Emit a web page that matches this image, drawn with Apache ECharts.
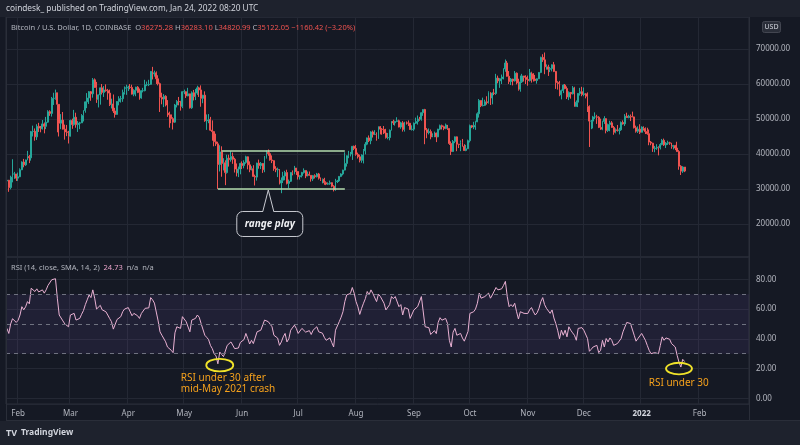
<!DOCTYPE html>
<html>
<head>
<meta charset="utf-8">
<script src="https://cdn.jsdelivr.net/npm/echarts@6/dist/echarts.min.js"></script>
<style>
html,body{margin:0;padding:0;background:#151924;}
#c{width:800px;height:445px;}
</style>
</head>
<body>
<div id="c"></div>
<script>
// ---------------- DATA (BTC/USD daily, Coinbase, 2021-01-26 .. 2022-01-24) ----------------
const startDate = [2021, 0, 26];           // first category (UTC)
const totalDays = 398;                     // axis runs on to late Feb 2022 (empty space on right)
const firstOpenK = 32.3;                   // open of the first candle (thousands USD)

// daily closes, thousands USD (one row per month)
const closeK = [
  32.5,30.4,33.4,34.3,34.3,33.1,
  33.5,35.5,37.7,36.9,38.3,39.3,38.9,46.4,46.5,44.9,47.9,47.4,47.2,48.6,47.9,49.1,52.1,51.6,55.9,55.9,57.5,54.2,48.8,49.7,47.1,46.3,46.2,45.1,
  49.6,48.4,50.5,48.4,48.8,48.9,51.0,52.4,54.9,56.0,57.8,57.2,61.2,59.0,55.6,56.9,58.9,57.6,58.3,58.1,57.4,54.1,54.3,52.3,51.3,55.0,55.8,55.8,57.6,58.8,58.9,
  59.1,59.0,57.1,58.2,59.1,57.6,56.0,58.1,58.1,59.8,59.8,59.9,63.6,62.9,63.2,61.5,60.1,56.2,55.7,56.5,54.0,51.7,51.2,50.1,49.1,54.0,55.0,54.9,53.6,57.8,
  57.8,56.6,57.2,53.2,57.5,56.4,57.4,58.9,58.3,55.9,56.8,49.5,49.7,49.9,46.8,46.4,43.5,42.9,37.0,40.6,37.3,37.5,34.7,38.8,38.4,39.3,38.5,35.7,34.6,35.7,37.3,
  36.7,37.6,39.2,36.9,35.5,35.8,33.6,33.4,37.4,36.7,37.3,35.5,39.1,40.5,40.1,38.3,38.1,35.8,35.5,35.6,31.7,32.5,33.7,34.7,31.6,32.2,34.7,34.5,36.0,35.0,
  33.5,33.8,34.7,35.3,33.7,34.2,33.9,32.9,33.8,33.5,34.3,33.1,32.7,32.8,31.8,31.4,31.5,31.8,30.8,29.8,32.1,32.3,33.6,34.3,35.4,37.3,39.5,40.0,40.0,42.2,41.6,
  39.9,39.2,38.2,39.7,40.9,42.8,44.6,43.8,46.3,45.6,45.6,44.4,47.8,47.1,47.0,46.0,44.7,44.7,46.8,49.3,48.9,49.3,49.5,47.7,48.9,47.0,49.1,48.9,48.8,47.0,47.1,
  48.8,49.3,50.0,49.9,51.8,52.7,46.9,46.1,46.4,44.9,45.2,46.0,44.9,47.1,48.1,47.8,47.3,48.3,47.3,43.0,40.7,43.6,44.9,42.8,42.7,43.2,42.2,41.0,41.5,43.8,
  48.1,47.7,48.2,49.2,51.5,55.3,53.8,53.9,54.9,54.7,57.5,56.0,57.4,57.3,61.7,60.9,61.5,62.0,64.3,66.0,62.2,60.7,61.4,60.9,63.1,60.3,58.5,60.6,62.3,61.9,61.3,
  61.0,63.2,62.9,61.4,61.0,61.5,63.3,67.6,66.9,64.9,64.9,64.2,64.4,65.5,63.6,60.4,60.1,56.9,58.1,59.7,58.7,56.3,57.6,57.2,58.9,53.6,54.8,57.3,57.8,57.0,
  57.2,56.5,53.6,49.4,49.4,50.6,50.6,50.5,47.6,47.1,49.3,50.1,46.7,48.4,48.9,47.6,46.2,46.9,46.7,46.9,49.0,48.6,50.8,50.4,50.8,50.7,50.6,47.5,46.5,47.1,46.2,
  47.7,47.3,46.4,45.8,43.4,43.1,41.6,41.7,41.9,41.8,42.7,43.9,42.6,43.1,43.2,43.1,42.2,42.4,41.7,40.7,36.5,35.1,36.27528,35.12205
];
const highK = [
  32.9,32.6,33.8,38.5,34.9,34.3,
  34.7,35.9,37.9,38.6,38.4,40.9,39.7,46.6,48.1,47.3,48.5,48.9,48.0,49.7,49.0,50.6,52.5,52.5,56.3,57.5,58.4,57.5,54.2,51.4,52.0,48.4,48.3,46.6,
  49.8,50.1,52.6,51.8,49.4,49.2,51.4,52.5,55.0,57.4,58.0,58.0,61.7,61.6,60.6,57.0,59.0,60.0,59.4,59.9,58.6,58.4,55.8,57.0,53.2,55.1,56.5,56.6,58.4,59.3,59.8,
  59.5,60.0,59.8,58.5,59.2,59.4,58.7,58.2,58.9,61.2,60.7,61.2,63.7,64.9,63.8,63.6,62.5,60.4,57.5,57.1,56.8,55.4,52.1,51.2,50.5,54.3,55.4,56.3,55.2,57.9,
  58.4,57.9,58.9,57.2,57.9,58.3,58.6,59.5,59.2,59.6,56.9,57.9,51.3,51.4,50.6,49.6,46.6,45.8,43.5,42.5,42.2,38.8,38.2,39.8,39.8,40.8,40.4,38.9,37.3,36.4,37.5,
  37.9,38.2,39.5,39.3,37.9,36.5,36.8,34.1,37.5,38.4,37.7,37.4,39.4,41.0,41.3,40.5,39.6,38.2,36.5,36.1,35.7,33.3,34.9,35.2,35.5,32.7,34.8,35.3,36.6,36.0,
  35.0,33.9,34.9,35.9,35.3,35.0,35.0,33.9,34.0,34.2,34.6,34.6,33.3,33.0,33.2,32.2,31.9,32.4,31.9,31.1,32.9,32.6,33.7,34.5,35.5,40.5,39.6,40.9,40.6,42.3,42.4,
  42.6,40.4,39.8,39.9,41.4,43.4,44.7,45.3,46.5,46.7,46.8,46.2,47.9,48.0,47.4,48.0,47.2,46.0,47.0,49.4,49.8,49.5,50.5,49.8,49.2,49.4,49.2,49.3,49.6,48.9,48.2,
  49.0,50.4,51.0,50.6,51.9,52.8,52.9,47.4,47.3,47.0,45.9,46.4,46.1,47.2,48.4,48.4,48.1,48.7,48.3,47.3,43.6,44.0,45.0,45.0,42.9,43.9,44.3,42.8,42.6,44.1,
  48.4,48.3,49.2,49.5,51.9,55.7,55.3,56.1,55.5,56.5,57.9,57.7,57.6,58.6,62.9,62.4,61.7,62.7,64.5,67.0,66.6,63.7,61.7,61.5,63.7,63.3,61.5,62.4,62.9,62.3,62.5,
  62.4,64.3,63.5,63.1,62.6,61.6,63.4,67.8,68.5,69.0,65.6,65.5,64.9,65.6,66.3,63.7,60.8,60.9,58.4,59.9,60.0,59.3,57.9,57.7,59.4,59.2,55.3,57.4,58.9,59.2,
  59.0,57.4,57.6,53.9,49.7,50.9,51.9,51.2,50.8,50.1,49.5,50.8,50.2,48.7,49.5,49.4,48.0,47.3,48.3,47.5,49.3,49.6,51.4,51.8,51.2,51.3,52.1,50.7,48.1,47.9,48.5,
  47.9,47.9,47.6,47.5,47.0,43.7,43.2,42.3,42.8,42.2,43.1,44.3,44.4,43.4,43.8,43.5,43.2,42.6,42.6,43.5,41.1,36.8,36.5,36.2831
];
const lowK = [
  30.9,29.2,29.9,31.9,32.9,32.3,
  32.3,33.4,35.4,36.2,36.6,38.2,37.4,38.1,45.0,43.8,44.0,46.3,46.2,47.0,45.9,47.1,48.9,50.9,50.7,54.0,55.5,46.2,45.0,47.1,47.0,44.1,45.1,43.0,
  45.0,47.2,48.1,47.5,46.3,47.1,48.9,49.3,51.8,53.1,54.3,55.2,56.1,58.9,54.6,53.3,54.1,57.0,56.3,57.8,55.5,53.7,53.0,51.7,50.4,51.3,53.9,54.7,54.9,57.0,56.9,
  58.0,58.5,57.0,56.5,56.5,57.4,55.5,55.8,57.6,57.9,59.4,59.4,59.8,61.3,62.1,60.0,59.6,52.0,54.2,53.4,53.6,50.6,47.5,48.8,47.0,48.9,53.3,53.9,52.4,53.1,
  57.1,56.0,56.5,53.0,52.9,55.3,55.4,56.9,56.3,53.5,54.5,49.2,46.9,48.8,46.6,43.8,42.2,42.3,30.0,35.0,33.5,35.3,31.1,34.4,36.4,37.8,37.2,34.7,33.6,33.4,34.2,
  35.7,35.9,37.2,35.6,34.8,35.3,33.5,31.0,32.4,35.8,35.7,34.6,34.8,38.7,39.5,38.1,37.4,35.2,34.8,33.4,31.3,28.8,31.7,32.5,31.3,30.2,32.0,33.9,34.2,34.0,
  32.7,32.7,33.3,34.4,33.1,33.6,33.8,32.1,32.3,33.0,33.3,32.7,32.3,31.6,31.2,31.1,31.2,31.2,30.5,29.3,29.5,31.7,32.0,33.4,33.9,35.3,36.4,38.8,39.3,38.3,41.1,
  39.5,38.7,37.6,37.5,37.3,39.9,42.5,43.4,42.8,44.7,45.4,43.8,44.3,45.6,45.5,45.7,44.4,44.2,43.9,46.7,48.3,48.1,49.1,47.6,47.2,46.4,46.4,48.4,48.0,46.9,46.7,
  46.6,48.6,48.4,49.5,49.5,50.9,42.8,44.5,45.6,44.2,44.8,44.8,43.4,44.8,46.8,47.0,46.8,47.1,46.9,42.6,39.7,40.6,43.1,40.8,41.7,40.8,42.1,40.9,40.8,41.4,
  43.3,47.4,47.1,46.9,49.1,50.4,53.4,53.6,53.7,54.1,54.4,54.0,54.2,56.8,56.9,60.2,58.9,60.0,61.3,63.5,62.1,60.0,59.7,59.6,60.7,59.9,58.1,57.8,60.3,60.7,60.0,
  59.5,60.7,60.4,60.7,60.8,60.1,61.4,63.1,66.3,62.8,64.1,62.3,63.4,63.6,63.4,58.6,58.4,56.5,55.6,57.4,58.5,55.7,55.4,55.8,57.0,53.5,53.6,53.4,56.7,56.5,
  56.5,55.9,52.0,42.0,47.1,47.3,50.0,48.6,47.4,46.9,46.8,48.6,45.9,46.3,46.5,47.5,45.5,45.9,46.4,45.6,46.6,48.4,48.0,50.3,50.2,49.4,50.5,47.3,46.1,46.0,45.7,
  46.2,46.7,45.7,45.5,42.5,42.5,40.6,40.5,41.2,39.6,41.3,42.5,42.3,41.7,42.6,42.6,41.5,41.3,41.1,40.6,35.5,34.0,34.6,34.82099
];
// RSI(14) values
const rsiValues = [
  47,43.6,50,53.5,54.2,51,
  52.5,56,61.6,59.5,61.5,65,63.5,74,75.2,71.8,73.6,71.5,70.7,72.9,70.7,72.9,75.9,75,79.7,79,80.4,67.3,56,56.5,52,50,49.2,48.1,
  56,54.9,57.1,52.6,53.2,53.7,56.5,59,63,66.2,69.5,67.7,72.9,67.3,60,61,62.5,59.5,59,58.2,56,53.7,51.5,46.5,45.8,53,54,54.9,58.2,60,61,
  61,60,55.5,57.1,58,55.5,53.7,57,57.1,60.5,60.5,60.8,67.7,66.2,64,58,52,44.7,42.4,43.6,38,34.5,33.5,32.3,30.7,44,48.1,48,47,54.9,
  54.9,51.5,52.5,44.7,52.6,52,53.7,56,54.5,50.3,51,42.4,41,39.5,35.6,33.4,30,28.5,23.2,31.1,29.5,28,27,35.6,36.1,37.9,36.8,33.4,32.3,33.8,37.5,
  37.2,39.5,43.6,40.2,36.5,39,36.8,36.8,44.7,43.5,45.8,45.5,52.6,53.7,51.5,50.3,48.1,42.4,41.3,40.5,35.6,37.9,41.3,43.6,37.9,40,45.8,45.5,49.2,47,
  43.6,44.7,47,48.1,44.5,45.8,45.5,42.9,45.8,45,48.1,44.7,43.6,43.8,41,39,40.2,40.6,37.5,34.5,45.8,47,51.5,54.5,58.2,65,69.5,70.7,70.5,74.5,70.7,
  65,61.5,56.4,60.5,63.9,67,71.8,69.5,72.9,70.5,70.7,65,70,68.5,67.3,63.9,59.4,58.7,63,68.4,67,68.4,67.7,61.6,63,56,61,61,60,53.7,53.7,
  59.4,60.5,61.6,62.8,68.4,69.1,48.1,47,47.5,42.9,44,45.5,43.5,51,54.2,52.5,51.5,53.7,50.3,39,34.5,44.5,47,42.4,42.2,43.6,40.5,38.4,39.7,45,
  57.1,56.5,58.2,60,63.9,70.7,67.3,67.3,68.4,67.5,70.7,67.3,69.5,68.4,74.5,72.9,73.2,73.6,75.9,78.6,68.4,61.6,63,61.6,63.9,58.2,53.3,58.2,59,57.1,56,
  57,59.5,61,58.2,56,57.5,60.5,65,67.7,63,60.5,59.4,57.1,59.4,54,50.3,45.8,40,45.8,42.4,45.8,41.3,48.1,45.8,44,42.4,39,47,47.3,47.5,
  45.8,45.8,40.2,31.6,33,34.5,35.6,35.6,30.7,32.3,39,34.5,40.2,37.9,40.6,39,35.6,36.8,36.8,38.5,40.2,44.7,45.8,51,50.3,50.3,49.7,42.4,38.4,40.2,39,
  43.6,42.4,39,35.6,32.3,30,28.9,30.7,30.2,30,35.6,41.3,39,40.6,40.2,39.7,36.8,36,34.5,28.9,24.3,21,26.2,24.73
];
const rsiLevels = [70, 50, 30];            // dashed guide lines
const rsiBand = [30, 70];                  // shaded band
const rangeTop = 40900, rangeBottom = 30000;   // "range play" box levels
const rangeTopDates = ['2021-05-21', '2021-07-26'];
const rangeBottomDates = ['2021-05-19', '2021-07-26'];
const monthNames = ['Jan','Feb','Mar','Apr','May','Jun','Jul','Aug','Sep','Oct','Nov','Dec'];

// ---------------- build ----------------
const PRICE_UNIT = 1000;
const categories = [];
for (let i = 0; i < totalDays; i++) {
  const d = new Date(Date.UTC(startDate[0], startDate[1], startDate[2] + i));
  categories.push(d.toISOString().slice(0, 10));
}
const candles = closeK.map((c, i) => {
  const o = i === 0 ? firstOpenK : closeK[i - 1];   // 24h market: open = previous close
  const hi = Math.max(highK[i], o, c), lo = Math.min(lowK[i], o, c);
  return [o * PRICE_UNIT, c * PRICE_UNIT, lo * PRICE_UNIT, hi * PRICE_UNIT];
});

const FONT = '"Noto Sans", "DejaVu Sans", sans-serif';
const GRID_C = '#242834';
const BORDER_C = '#2a2e39';
const LABEL_C = '#b2b5be';
const UP = '#26a69a', DOWN = '#ef5350';
const isMonthStart = (idx, val) => typeof val === 'string' && val.slice(8, 10) === '01';

const option = {
  backgroundColor: '#151924',
  animation: false,
  textStyle: { fontFamily: FONT },
  grid: [
    { left: 6, right: 51, top: 17, height: 240, show: true, borderColor: BORDER_C, borderWidth: 1, backgroundColor: 'transparent' },
    { left: 6, right: 51, top: 257, height: 147, show: true, borderColor: BORDER_C, borderWidth: 1, backgroundColor: 'transparent' }
  ],
  xAxis: [
    { type: 'category', gridIndex: 0, data: categories, boundaryGap: true,
      axisLine: { show: false }, axisTick: { show: false, alignWithLabel: true }, axisLabel: { show: false },
      splitLine: { show: true, interval: isMonthStart, lineStyle: { color: GRID_C, width: 1 } } },
    { type: 'category', gridIndex: 1, data: categories, boundaryGap: true,
      axisLine: { show: false }, axisTick: { show: false, alignWithLabel: true },
      axisLabel: { show: true, interval: isMonthStart, color: LABEL_C, fontSize: 8, margin: 6, fontFamily: FONT,
        formatter: (val) => {
          const m = parseInt(val.slice(5, 7), 10);
          return m === 1 ? '{y|' + val.slice(0, 4) + '}' : monthNames[m - 1];
        },
        rich: { y: { fontWeight: 'bold', color: '#d1d4dc', fontSize: 8, fontFamily: FONT } } },
      splitLine: { show: true, interval: isMonthStart, lineStyle: { color: GRID_C, width: 1 } } }
  ],
  yAxis: [
    { type: 'value', gridIndex: 0, position: 'right', min: 10571, max: 79143, splitNumber: 7, scale: false,
      axisLine: { show: false }, axisTick: { show: false },
      axisLabel: { color: LABEL_C, fontSize: 8, margin: 7, showMinLabel: false, showMaxLabel: false, fontFamily: FONT,
        formatter: (v) => v.toFixed(2) },
      splitLine: { show: true, lineStyle: { color: GRID_C, width: 1 } } },
    { type: 'value', gridIndex: 1, position: 'right', min: -3.83, max: 95, splitNumber: 5,
      axisLine: { show: false }, axisTick: { show: false },
      axisLabel: { color: LABEL_C, fontSize: 8, margin: 7, showMinLabel: false, showMaxLabel: false, fontFamily: FONT,
        formatter: (v) => v.toFixed(2) },
      splitLine: { show: true, lineStyle: { color: GRID_C, width: 1 } } }
  ],
  series: [
    { type: 'candlestick', xAxisIndex: 0, yAxisIndex: 0, data: candles, barWidth: '72%',
      itemStyle: { color: UP, color0: DOWN, borderColor: UP, borderColor0: DOWN, borderWidth: 1 },
      markLine: { silent: true, symbol: 'none', label: { show: false },
        lineStyle: { color: '#b3dcae', width: 1.5, type: 'solid' },
        data: [
          [{ xAxis: rangeTopDates[0], yAxis: rangeTop }, { xAxis: rangeTopDates[1], yAxis: rangeTop }],
          [{ xAxis: rangeBottomDates[0], yAxis: rangeBottom }, { xAxis: rangeBottomDates[1], yAxis: rangeBottom }]
        ] } },
    { type: 'line', xAxisIndex: 1, yAxisIndex: 1, data: rsiValues, symbol: 'none', smooth: false,
      lineStyle: { color: '#e9b1d3', width: 1 }, itemStyle: { color: '#e9b1d3' },
      markArea: { silent: true, itemStyle: { color: 'rgba(126,87,194,0.11)' },
        data: [[{ yAxis: rsiBand[0] }, { yAxis: rsiBand[1] }]] },
      markLine: { silent: true, symbol: 'none', label: { show: false },
        lineStyle: { color: '#6f7280', width: 1, type: [4, 4] },
        data: rsiLevels.map(v => ({ yAxis: v })) } }
  ]
};

const chart = echarts.init(document.getElementById('c'), null, { renderer: 'canvas' });
chart.setOption(option);

// ---------------- annotations (anchored to data coordinates) ----------------
const P = (gi, cat, v) => chart.convertToPixel({ xAxisIndex: gi, yAxisIndex: gi }, [categories.indexOf(cat), v]);
const callTip = P(0, '2021-06-15', rangeBottom);
const ell1 = P(1, '2021-05-20', 22.3);
const ell2 = P(1, '2022-01-21', 20);
const txt1 = P(1, '2021-05-01', 0);
const txt2 = P(1, '2022-01-23', 0);

const bx = callTip[0] - 32, by = callTip[1] + 22, bw = 66, bh = 25;
const ORANGE = '#f5a11c';
const YELLOW = '#f0e32a';

chart.setOption({
  graphic: [
    // header bar
    { type: 'rect', shape: { x: 0, y: 0, width: 800, height: 17 }, style: { fill: '#1e222d' }, silent: true, z: 10 },
    { type: 'text', x: 6, y: 9, style: { text: 'coindesk_ published on TradingView.com, Jan 24, 2022 08:20 UTC',
        fill: '#d1d4dc', font: '8.3px ' + FONT, verticalAlign: 'middle' }, z: 11 },
    // footer
    { type: 'rect', shape: { x: 0, y: 421, width: 800, height: 24 }, style: { fill: '#1e222d' }, silent: true, z: 10 },
    { type: 'text', x: 6, y: 433, style: { text: 'TV', fill: '#d1d4dc', font: 'bold 9px ' + FONT, verticalAlign: 'middle' }, z: 11 },
    { type: 'text', x: 21, y: 433, style: { text: 'TradingView', fill: '#d1d4dc', font: 'bold 8.5px ' + FONT, verticalAlign: 'middle' }, z: 11 },
    // borders
    { type: 'line', shape: { x1: 6, y1: 420.5, x2: 800, y2: 420.5 }, style: { stroke: BORDER_C, lineWidth: 1 }, z: 11 },
    { type: 'line', shape: { x1: 749.5, y1: 17, x2: 749.5, y2: 421 }, style: { stroke: BORDER_C, lineWidth: 1 }, z: 11 },
    { type: 'line', shape: { x1: 6.5, y1: 17, x2: 6.5, y2: 421 }, style: { stroke: BORDER_C, lineWidth: 1 }, z: 11 },
    // symbol legend
    { type: 'text', x: 11, y: 28, z: 11, style: {
        text: '{t|Bitcoin / U.S. Dollar, 1D, COINBASE}  {l|O}{v|36275.28} {l|H}{v|36283.10} {l|L}{v|34820.99} {l|C}{v|35122.05} {v|\u22121160.42 (\u22123.20%)}',
        verticalAlign: 'middle', font: '7.5px ' + FONT,
        rich: { t: { fill: LABEL_C, font: '7.5px ' + FONT }, l: { fill: LABEL_C, font: '7.5px ' + FONT }, v: { fill: DOWN, font: '7.5px ' + FONT } } } },
    // USD badge
    { type: 'rect', shape: { x: 762.5, y: 21.5, width: 18, height: 11, r: 2 }, style: { fill: '#2a2e39', stroke: '#434651', lineWidth: 1 }, z: 11 },
    { type: 'text', x: 771.5, y: 27, style: { text: 'USD', fill: '#d1d4dc', font: '7px ' + FONT, align: 'center', verticalAlign: 'middle' }, z: 12 },
    // RSI legend
    { type: 'text', x: 11, y: 268, z: 11, style: {
        text: '{t|RSI (14, close, SMA, 14, 2)}  {v|24.73}  {t|n/a  n/a}',
        verticalAlign: 'middle', font: '7.5px ' + FONT,
        rich: { t: { fill: LABEL_C, font: '7.5px ' + FONT }, v: { fill: '#e9a3c9', font: '7.5px ' + FONT } } } },
    // range play callout
    { type: 'rect', shape: { x: bx + 0.5, y: by + 0.5, width: bw, height: bh, r: 6 }, style: { fill: '#151924', stroke: '#c8cad1', lineWidth: 1 }, z: 20 },
    { type: 'polygon', shape: { points: [[callTip[0] - 5.5, by + 1.5], [callTip[0], callTip[1] + 1], [callTip[0] + 5.5, by + 1.5]] }, style: { fill: '#151924' }, z: 21 },
    { type: 'polyline', shape: { points: [[callTip[0] - 5.5, by + 0.5], [callTip[0], callTip[1] + 1], [callTip[0] + 5.5, by + 0.5]] }, style: { stroke: '#c8cad1', lineWidth: 1, fill: null }, z: 22 },
    { type: 'text', x: bx + bw / 2 + 0.5, y: by + bh / 2 + 0.5, style: { text: 'range play', fill: '#f0f1f4', font: 'italic bold 10px ' + FONT, align: 'center', verticalAlign: 'middle' }, z: 23 },
    // RSI annotations
    { type: 'ellipse', shape: { cx: ell1[0], cy: ell1[1], rx: 13.5, ry: 6.3 }, style: { fill: null, stroke: YELLOW, lineWidth: 1.8 }, z: 20 },
    { type: 'ellipse', shape: { cx: ell2[0], cy: ell2[1], rx: 13, ry: 5.8 }, style: { fill: null, stroke: YELLOW, lineWidth: 1.8 }, z: 20 },
    { type: 'text', x: txt1[0] - 3.5, y: 384, style: { text: 'RSI under 30 after\nmid-May 2021 crash', fill: ORANGE, font: '10px ' + FONT, lineHeight: 11, verticalAlign: 'middle' }, z: 20 },
    { type: 'text', x: txt2[0] - 4, y: 383, style: { text: 'RSI under 30', fill: ORANGE, font: '10px ' + FONT, align: 'center', verticalAlign: 'middle' }, z: 20 }
  ]
});
</script>
</body>
</html>
